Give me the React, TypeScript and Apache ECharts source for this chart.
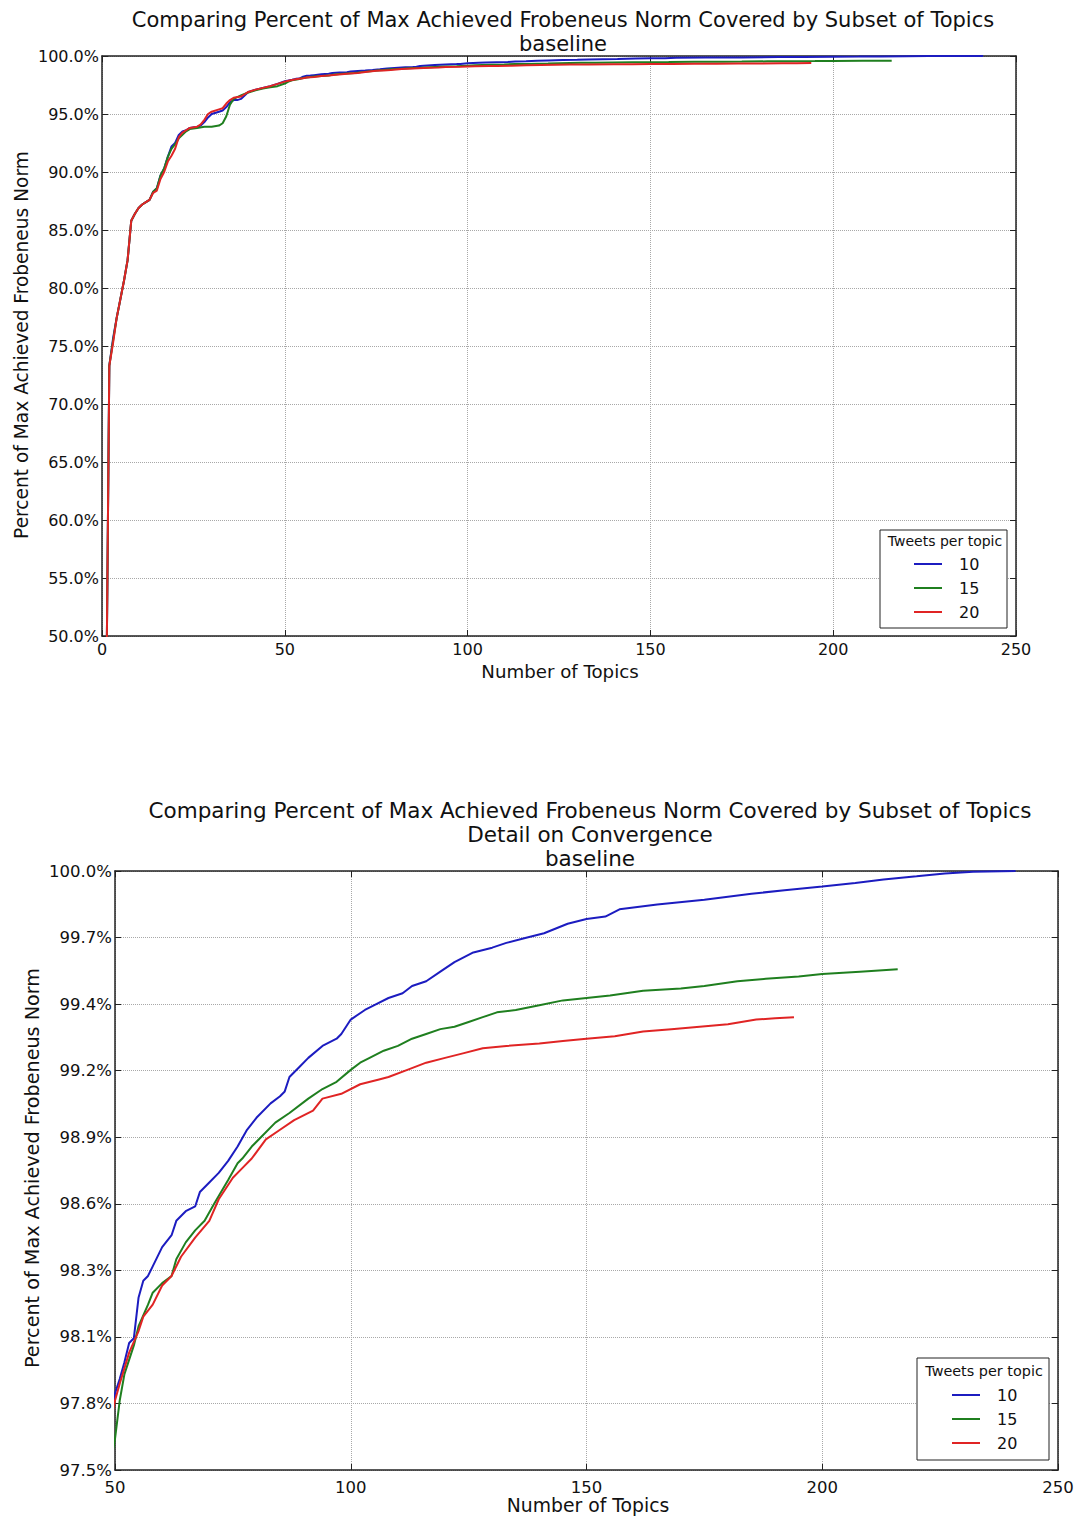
import React, { useEffect, useRef } from 'react';
import * as echarts from 'echarts';

const FONT = 'DejaVu Sans';

const seriesNames = ['10', '15', '20'];
const seriesColors = ['#1c1cc0', '#1f7f1f', '#e02424'];
const legendTitle = 'Tweets per topic';

const topTitleLines = [
  'Comparing Percent of Max Achieved Frobeneus Norm Covered by Subset of Topics',
  'baseline',
];
const bottomTitleLines = [
  'Comparing Percent of Max Achieved Frobeneus Norm Covered by Subset of Topics',
  'Detail on Convergence',
  'baseline',
];
const xAxisName = 'Number of Topics';
const yAxisName = 'Percent of Max Achieved Frobeneus Norm';

// axis ranges: [min, max, interval]
const topXRange = [0, 250, 50];
const topYRange = [50, 100, 5];
const detailXRange = [50, 250, 50];
const detailYRange = [97.5, 100, 2.5 / 9];

// Tweets per topic = 10
const tweets10: [number, number][] = [
  [1, 38], [2, 73.3], [3, 75.6], [4, 77.4], [5, 79.0], [6, 80.6], [7, 82.4], [8, 85.8],
  [9, 86.4], [10, 86.9], [11, 87.2], [12, 87.4], [13, 87.6], [14, 88.3], [15, 88.6],
  [16, 89.7], [17, 90.3], [18, 91.3], [19, 92.2], [20, 92.5], [21, 93.2], [22, 93.5],
  [23, 93.6], [24, 93.8], [26, 93.9], [27, 94.0], [28, 94.3], [29, 94.7], [30, 95.0],
  [32, 95.2], [33, 95.3], [34, 95.6], [35, 96.0], [36, 96.2], [37, 96.2], [38, 96.3],
  [39, 96.6], [40, 96.9], [42, 97.1], [44, 97.25], [46, 97.4], [48, 97.6],
  [50, 97.82], [51, 97.88], [52, 97.95], [53, 98.03], [54, 98.05], [55, 98.22],
  [56, 98.29], [57, 98.31], [58, 98.35], [60, 98.43], [62, 98.48], [63, 98.54],
  [65, 98.58], [67, 98.6], [68, 98.66], [70, 98.7], [72, 98.74], [74, 98.79],
  [76, 98.85], [78, 98.92], [80, 98.97], [83, 99.03], [85, 99.06], [86, 99.08],
  [87, 99.14], [89, 99.18], [91, 99.22], [94, 99.27], [97, 99.3], [98, 99.32],
  [100, 99.38], [103, 99.42], [105, 99.44], [108, 99.47], [111, 99.49], [113, 99.52],
  [116, 99.54], [119, 99.58], [122, 99.62], [126, 99.66], [130, 99.68], [133, 99.7],
  [137, 99.72], [141, 99.74], [146, 99.78], [150, 99.8], [154, 99.81], [157, 99.84],
  [165, 99.86], [175, 99.88], [185, 99.905], [192, 99.92], [200, 99.935], [207, 99.95],
  [213, 99.965], [220, 99.978], [226, 99.99], [232, 99.997], [241, 100.0],
];

// Tweets per topic = 15
const tweets15: [number, number][] = [
  [1, 38], [2, 73.3], [3, 75.4], [4, 77.4], [5, 79.0], [6, 80.6], [7, 82.4], [8, 85.8],
  [9, 86.4], [10, 86.9], [11, 87.2], [12, 87.4], [13, 87.6], [14, 88.3], [15, 88.6],
  [16, 89.7], [17, 90.3], [18, 91.3], [19, 92.0], [20, 92.4], [21, 92.9], [22, 93.2],
  [23, 93.5], [24, 93.7], [26, 93.8], [28, 93.9], [30, 93.9], [32, 94.0], [33, 94.2],
  [34, 94.8], [35, 95.8], [36, 96.3], [38, 96.6], [40, 96.85], [42, 97.05],
  [44, 97.2], [46, 97.3], [48, 97.4],
  [50, 97.63], [51, 97.79], [52, 97.9], [54, 98.02], [55, 98.1], [57, 98.19],
  [58, 98.24], [60, 98.28], [62, 98.31], [63, 98.38], [65, 98.45], [67, 98.5],
  [69, 98.54], [71, 98.61], [74, 98.71], [76, 98.78], [77, 98.8], [79, 98.85],
  [81, 98.89], [84, 98.95], [87, 98.99], [91, 99.05], [94, 99.09], [97, 99.12],
  [100, 99.17], [102, 99.2], [104, 99.22], [107, 99.25], [110, 99.27], [113, 99.3],
  [116, 99.32], [119, 99.34], [122, 99.35], [125, 99.37], [128, 99.39], [131, 99.41],
  [135, 99.42], [140, 99.44], [145, 99.46], [150, 99.47], [155, 99.48], [162, 99.5],
  [170, 99.51], [175, 99.52], [182, 99.54], [188, 99.55], [195, 99.56], [200, 99.57],
  [208, 99.58], [216, 99.59],
];

// Tweets per topic = 20
const tweets20: [number, number][] = [
  [1, 38], [2, 73.3], [3, 75.2], [4, 77.4], [5, 79.0], [6, 80.6], [7, 82.4], [8, 85.8],
  [9, 86.4], [10, 86.9], [11, 87.2], [12, 87.4], [13, 87.6], [14, 88.2], [15, 88.4],
  [16, 89.4], [17, 90.0], [18, 90.9], [19, 91.4], [20, 92.0], [21, 93.0], [22, 93.4],
  [23, 93.6], [24, 93.8], [26, 93.9], [27, 94.1], [28, 94.5], [29, 95.0], [30, 95.2],
  [32, 95.4], [33, 95.5], [34, 95.9], [35, 96.2], [36, 96.4], [38, 96.5],
  [39, 96.7], [40, 96.9], [42, 97.1], [44, 97.25], [46, 97.4], [48, 97.6],
  [50, 97.79], [51, 97.86], [53, 97.99], [55, 98.08], [56, 98.14], [58, 98.19],
  [60, 98.27], [62, 98.31], [64, 98.39], [67, 98.47], [70, 98.54], [72, 98.63],
  [75, 98.72], [77, 98.76], [79, 98.8], [82, 98.88], [85, 98.92], [88, 98.96],
  [92, 99.0], [94, 99.05], [98, 99.07], [102, 99.11], [106, 99.13], [108, 99.14],
  [112, 99.17], [116, 99.2], [120, 99.22], [124, 99.24], [128, 99.26], [133, 99.27],
  [140, 99.28], [145, 99.29], [150, 99.3], [156, 99.31], [162, 99.33], [168, 99.34],
  [174, 99.35], [180, 99.36], [186, 99.38], [190, 99.385], [194, 99.39],
];

const seriesData = [tweets10, tweets15, tweets20];

const AXIS_COLOR = '#222';
const TEXT_COLOR = '#111';

function makeAxes(
  gridIndex: number,
  xr: number[],
  yr: number[],
  fontSize: number,
  xLabelMargin: number,
) {
  const common = {
    type: 'value' as const,
    gridIndex,
    axisLine: { show: true, onZero: false, lineStyle: { color: AXIS_COLOR, width: 1.5 } },
    axisTick: { show: true, inside: true, length: 6, lineStyle: { color: AXIS_COLOR, width: 1 } },
  };
  const x = [
    {
      ...common,
      position: 'bottom',
      min: xr[0], max: xr[1], interval: xr[2],
      axisLabel: { color: TEXT_COLOR, fontSize, fontFamily: FONT, margin: xLabelMargin },
      splitLine: { show: true, lineStyle: { color: '#a8a8a8', type: 'dotted', width: 1 } },
    },
    {
      ...common,
      position: 'top',
      min: xr[0], max: xr[1], interval: xr[2],
      axisLabel: { show: false },
      splitLine: { show: false },
    },
  ];
  const y = [
    {
      ...common,
      position: 'left',
      min: yr[0], max: yr[1], interval: yr[2],
      axisLabel: {
        color: TEXT_COLOR, fontSize, fontFamily: FONT, margin: 3,
        formatter: (v: number) => v.toFixed(1) + '%',
      },
      splitLine: { show: true, lineStyle: { color: '#a8a8a8', type: 'dotted', width: 1 } },
    },
    {
      ...common,
      position: 'right',
      min: yr[0], max: yr[1], interval: yr[2],
      axisLabel: { show: false },
      splitLine: { show: false },
    },
  ];
  return { x, y };
}

function makeSeries(xAxisIndex: number, yAxisIndex: number) {
  return seriesData.map((d, i) => ({
    type: 'line',
    name: seriesNames[i],
    xAxisIndex,
    yAxisIndex,
    data: d,
    showSymbol: false,
    symbol: 'none',
    clip: true,
    color: seriesColors[i],
    lineStyle: { color: seriesColors[i], width: 2 },
    itemStyle: { color: seriesColors[i] },
    z: 3 + i,
  }));
}

function textEl(text: string, x: number, y: number, size: number, extra: any = {}) {
  return {
    type: 'text',
    x,
    y,
    silent: true,
    z: 100,
    ...extra,
    style: {
      text,
      font: `${size}px "${FONT}"`,
      fill: TEXT_COLOR,
      align: 'center',
      verticalAlign: 'middle',
    },
  };
}

export default function App() {
  const ref = useRef<HTMLDivElement>(null);

  useEffect(() => {
    if (!ref.current) return;
    const chart = echarts.init(ref.current, undefined, { renderer: 'svg' });

    const topAxes = makeAxes(0, topXRange, topYRange, 16, 5);
    const botAxes = makeAxes(1, detailXRange, detailYRange, 16.5, 9);

    const graphic: any[] = [
      textEl(topTitleLines[0], 563, 20, 21),
      textEl(topTitleLines[1], 563, 44, 21),
      textEl(bottomTitleLines[0], 590, 810, 21.5),
      textEl(bottomTitleLines[1], 590, 834, 21.5),
      textEl(bottomTitleLines[2], 590, 858, 21.5),
      textEl(xAxisName, 560, 671, 18.2),
      textEl(xAxisName, 588, 1505, 18.8),
      textEl(yAxisName, 21, 345, 18.6, { rotation: Math.PI / 2 }),
      textEl(yAxisName, 32, 1168, 19.2, { rotation: Math.PI / 2 }),
      {
        type: 'rect', z: 90, silent: true,
        shape: { x: 880, y: 530, width: 127, height: 98 },
        style: { fill: '#fff', stroke: '#222', lineWidth: 1 },
      },
      textEl(legendTitle, 945, 541, 14),
      {
        type: 'rect', z: 90, silent: true,
        shape: { x: 917, y: 1358, width: 132, height: 102 },
        style: { fill: '#fff', stroke: '#222', lineWidth: 1 },
      },
      textEl(legendTitle, 984, 1371, 14.4),
    ];

    const legendCommon = {
      data: seriesNames,
      orient: 'vertical' as const,
      icon: 'rect',
      itemWidth: 28,
      itemHeight: 2,
      itemGap: 4,
      padding: 0,
      z: 110,
      selectedMode: false,
      textStyle: {
        color: TEXT_COLOR, fontSize: 16, fontFamily: FONT, lineHeight: 20,
        padding: [0, 0, 0, 12],
      },
    };

    chart.setOption({
      animation: false,
      backgroundColor: '#fff',
      textStyle: { fontFamily: FONT },
      grid: [
        { left: 102, top: 56, width: 914, height: 580, containLabel: false },
        { left: 115, top: 871, width: 943, height: 599, containLabel: false },
      ],
      xAxis: [...topAxes.x, ...botAxes.x],
      yAxis: [...topAxes.y, ...botAxes.y],
      legend: [
        { ...legendCommon, left: 914, top: 554 },
        { ...legendCommon, left: 952, top: 1385 },
      ],
      graphic,
      series: [...makeSeries(0, 0), ...makeSeries(2, 2)],
    });

    return () => {
      chart.dispose();
    };
  }, []);

  return (
    <div
      ref={ref}
      style={{ position: 'absolute', left: 0, top: 0, width: 1079, height: 1517, background: '#fff' }}
    />
  );
}
